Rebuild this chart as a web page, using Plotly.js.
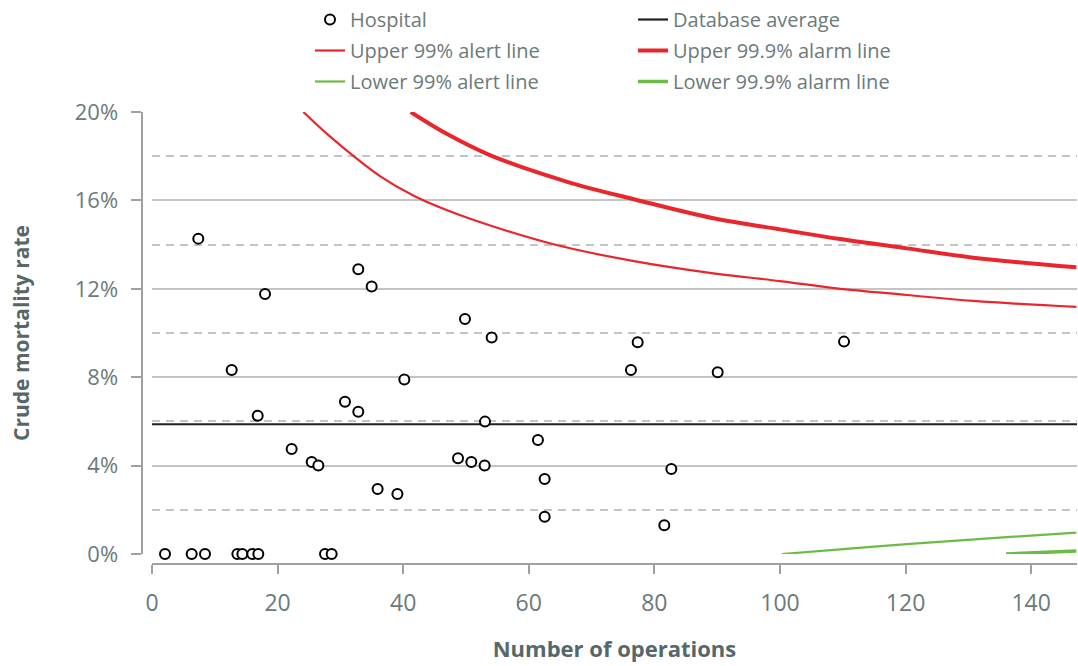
<!DOCTYPE html>
<html>
<head>
<meta charset="utf-8">
<script src="https://cdn.plot.ly/plotly-3.0.1.min.js"></script>
<style>
  html, body { margin: 0; padding: 0; background: #ffffff; }
  #chart { width: 1078px; height: 666px; }
</style>
</head>
<body>
<div id="chart"></div>
<script>
// Hospitals: number of operations and crude mortality rate (fraction)
const hospitalOps = [2.07, 6.32, 8.44, 13.59, 14.39, 15.97, 16.93, 27.55, 28.61,
  7.37, 12.69, 18.0, 32.85, 34.98, 16.83, 30.73, 32.85, 22.24, 25.43, 26.49, 35.93, 39.08,
  40.18, 49.84, 54.09, 77.34, 76.27, 90.08, 110.2,
  53.03, 61.46, 48.73, 50.85, 52.97, 62.53, 62.53, 82.7, 81.58];
const hospitalRate = [0, 0, 0, 0, 0, 0, 0, 0, 0,
  0.1427, 0.0833, 0.1176, 0.1288, 0.1210, 0.0626, 0.0689, 0.0644, 0.0475, 0.0416, 0.0400, 0.0294, 0.0271,
  0.0790, 0.1063, 0.0980, 0.0958, 0.0833, 0.0822, 0.0961,
  0.0599, 0.0516, 0.0433, 0.0416, 0.0400, 0.0339, 0.0169, 0.0385, 0.0130];

// Database average
const databaseAverage = 0.0587;
const opsExtent = [0, 147.3];

// Control limits
const upper99Ops  = [24.1, 28.1, 32.2, 36.3, 41.6, 47.0, 54.1, 64.4, 77.2, 89.4, 100, 109, 120.2, 130.8, 147.2];
const upper99Rate = [0.200, 0.1895, 0.1798, 0.1710, 0.1622, 0.1555, 0.1484, 0.1398, 0.1323, 0.1270, 0.1235, 0.1202, 0.1172, 0.1145, 0.1118];
const upper999Ops  = [41.2, 47.0, 53.8, 66.0, 77.2, 89.4, 100, 109.6, 120.2, 130.8, 147.2];
const upper999Rate = [0.200, 0.1900, 0.1805, 0.1685, 0.1602, 0.1519, 0.1469, 0.1425, 0.1383, 0.1341, 0.1297];
const lower99Ops  = [100.3, 109.6, 120.2, 136.1, 147.2];
const lower99Rate = [0.0, 0.0021, 0.0045, 0.0076, 0.0097];
const lower999Ops  = [136.0, 147.2];
const lower999Rate = [0.0, 0.0014];

// Axis ticks
const yTickVals = [0, 0.04, 0.08, 0.12, 0.16, 0.20];
const xTickVals = [0, 20, 40, 60, 80, 100, 120, 140];

const RED = '#e8262c';
const GREEN = '#6cbb45';
const TEXT = '#6b7a7a';
const TITLE = '#56676a';
const FONT = '"Open Sans", "Noto Sans", sans-serif';

const traces = [
  { x: upper99Ops, y: upper99Rate, type: 'scatter', mode: 'lines', name: 'Upper 99% alert line',
    line: { color: RED, width: 2.2, shape: 'spline', smoothing: 1 }, legend: 'legend', legendrank: 2, legendgroup: 'b', hoverinfo: 'skip' },
  { x: upper999Ops, y: upper999Rate, type: 'scatter', mode: 'lines', name: 'Upper 99.9% alarm line',
    line: { color: RED, width: 4, shape: 'spline', smoothing: 1 }, legend: 'legend2', legendrank: 2, legendgroup: 'e', hoverinfo: 'skip' },
  { x: lower99Ops, y: lower99Rate, type: 'scatter', mode: 'lines', name: 'Lower 99% alert line',
    line: { color: GREEN, width: 2.2, shape: 'spline', smoothing: 0.6 }, legend: 'legend', legendrank: 3, legendgroup: 'c', hoverinfo: 'skip' },
  { x: lower999Ops, y: lower999Rate, type: 'scatter', mode: 'lines', name: 'Lower 99.9% alarm line',
    line: { color: GREEN, width: 3.5 }, legend: 'legend2', legendrank: 3, legendgroup: 'f', hoverinfo: 'skip' },
  { x: opsExtent, y: [databaseAverage, databaseAverage], type: 'scatter', mode: 'lines', name: 'Database average',
    line: { color: '#231f20', width: 2.2 }, legend: 'legend2', legendrank: 1, legendgroup: 'd', hoverinfo: 'skip' },
  { x: hospitalOps, y: hospitalRate, type: 'scatter', mode: 'markers', name: 'Hospital',
    marker: { symbol: 'circle', size: 10, color: '#ffffff', line: { color: '#000000', width: 2 } },
    cliponaxis: false, legend: 'legend', legendrank: 1, legendgroup: 'a' }
];

const W = 1078, H = 666;
const mL = 140, mR = 0, mT = 112, mB = 100;
const pw = W - mL - mR, ph = H - mT - mB;

const legendCommon = {
  xanchor: 'left', y: 1 + mT / ph, yanchor: 'top',
  orientation: 'v', bgcolor: 'rgba(0,0,0,0)', borderwidth: 0,
  font: { family: FONT, size: 20, color: TEXT }, traceorder: 'grouped', tracegroupgap: 2
};

const layout = {
  width: W, height: H,
  margin: { l: mL, r: mR, t: mT, b: mB, pad: 0 },
  paper_bgcolor: '#ffffff', plot_bgcolor: '#ffffff',
  font: { family: FONT, color: TEXT, size: 20 },
  showlegend: true,
  xaxis: {
    range: opsExtent,
    domain: [(152 - mL) / pw, (1077 - mL) / pw],
    anchor: 'free', position: (H - mB - 564.3) / ph,
    tickvals: xTickVals, ticktext: xTickVals.map(String),
    ticks: 'outside', ticklen: 9, tickwidth: 2, tickcolor: '#a0a0a0',
    showline: true, linecolor: '#a0a0a0', linewidth: 2,
    showgrid: false, zeroline: false,
    tickfont: { family: FONT, size: 23, color: TEXT },
    ticklabelstandoff: 9,
    title: { text: 'Number of operations', font: { family: FONT, size: 22, color: TITLE, weight: 'bold' }, standoff: 24 }
  },
  yaxis: {
    range: [0, 0.2],
    domain: [(H - mB - 554) / ph, 1],
    anchor: 'free', position: (141.5 - mL) / pw,
    tickvals: yTickVals, tickformat: '.0%',
    ticks: 'outside', ticklen: 10, tickwidth: 2, tickcolor: '#a0a0a0',
    showline: true, linecolor: '#a0a0a0', linewidth: 2,
    showgrid: true, gridcolor: '#c4c4c4', gridwidth: 2,
    minor: { dtick: 0.02, tick0: 0, showgrid: true, gridcolor: '#c4c4c4', gridwidth: 2, griddash: '8px,6px', ticks: '' },
    zeroline: false,
    tickfont: { family: FONT, size: 22, color: TEXT },
    ticklabelstandoff: 8,
    title: { text: 'Crude mortality rate', font: { family: FONT, size: 21, color: TITLE, weight: 'bold' }, standoff: 38 }
  },
  legend: Object.assign({ x: (310 - mL) / pw }, legendCommon),
  legend2: Object.assign({ x: (633 - mL) / pw }, legendCommon)
};

Plotly.newPlot('chart', traces, layout, { displayModeBar: false, staticPlot: true });
</script>
</body>
</html>
